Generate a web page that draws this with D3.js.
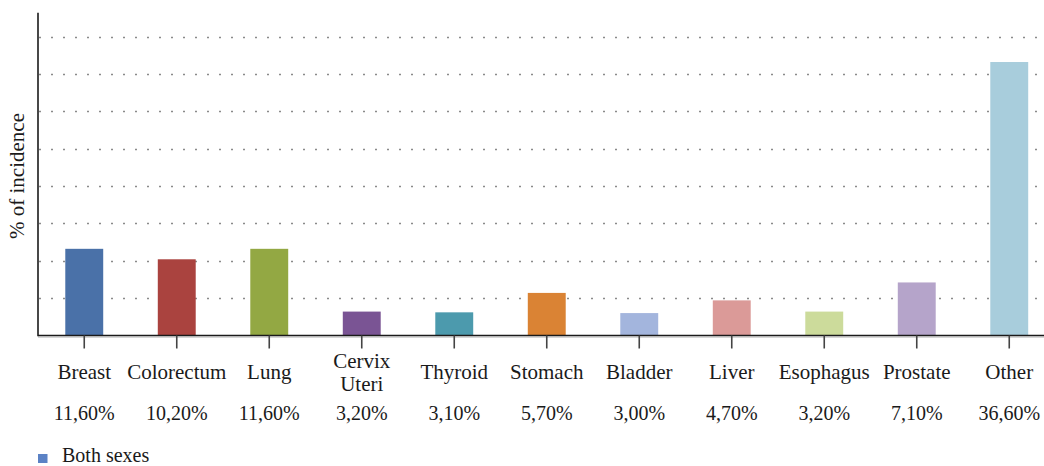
<!DOCTYPE html>
<html>
<head>
<meta charset="utf-8">
<script src="https://cdnjs.cloudflare.com/ajax/libs/d3/7.8.5/d3.min.js"></script>
<style>
	body { margin: 0; background: #fff; }
	svg text { font-family: "Liberation Serif", "DejaVu Serif", serif; fill: #1a1a1a; }
</style>
</head>
<body>
<div id="chart"></div>
<script>
// Data
var categories = ['Breast', 'Colorectum', 'Lung', 'Cervix\nUteri', 'Thyroid', 'Stomach', 'Bladder', 'Liver', 'Esophagus', 'Prostate', 'Other'];
var values = [11.6, 10.2, 11.6, 3.2, 3.1, 5.7, 3.0, 4.7, 3.2, 7.1, 36.6];
var colors = ['#4a71a8', '#aa433f', '#93a843', '#7a5494', '#4c9aad', '#da8334', '#a3b5dd', '#db9a98', '#ccdb9b', '#b5a4ca', '#a8cddc'];
var gridTicks = [5, 10, 15, 20, 25, 30, 35, 40];
var seriesName = 'Both sexes';

var width = 1044, height = 466;
var mLeft = 38, mTop = 12.7, base = 335.5;

var svg = d3.select('#chart').append('svg')
	.attr('width', width)
	.attr('height', height);

var x = d3.scaleBand()
	.domain(categories)
	.range([mLeft, mLeft + 92.5 * categories.length])
	.paddingInner(0.59)
	.paddingOuter(0.295);

var y = d3.scaleLinear()
	.domain([0, 43.2])
	.range([base, mTop]);

var pct = d3.formatLocale({decimal: ',', thousands: '.', grouping: [3], currency: ['', '']}).format('.2f');

// dotted gridlines
svg.append('g').selectAll('line')
	.data(gridTicks)
	.join('line')
	.attr('x1', mLeft + 1)
	.attr('x2', width)
	.attr('y1', function (d) { return Math.round(y(d)) + 0.5; })
	.attr('y2', function (d) { return Math.round(y(d)) + 0.5; })
	.attr('stroke', '#8a8a8a')
	.attr('stroke-width', 1.6)
	.attr('stroke-dasharray', '2,10');

// bars
svg.append('g').selectAll('rect')
	.data(values)
	.join('rect')
	.attr('x', function (d, i) { return x(categories[i]); })
	.attr('width', x.bandwidth())
	.attr('y', function (d) { return y(d); })
	.attr('height', function (d) { return base - y(d); })
	.attr('fill', function (d, i) { return colors[i]; });

// axes
svg.append('line')
	.attr('x1', mLeft).attr('x2', mLeft)
	.attr('y1', mTop).attr('y2', base + 0.8)
	.attr('stroke', '#1a1a1a').attr('stroke-width', 1.6);

svg.append('line')
	.attr('x1', mLeft).attr('x2', width)
	.attr('y1', base + 1.8).attr('y2', base + 1.8)
	.attr('stroke', '#d6d6d6').attr('stroke-width', 1.5);
svg.append('line')
	.attr('x1', mLeft).attr('x2', width)
	.attr('y1', base).attr('y2', base)
	.attr('stroke', '#1a1a1a').attr('stroke-width', 1.6);

// ticks at category centres
svg.append('g').selectAll('line')
	.data(categories)
	.join('line')
	.attr('x1', function (d) { return x(d) + x.bandwidth() / 2; })
	.attr('x2', function (d) { return x(d) + x.bandwidth() / 2; })
	.attr('y1', base)
	.attr('y2', base + 13)
	.attr('stroke', '#444')
	.attr('stroke-width', 1.6);

// category labels
var catLabels = svg.append('g').selectAll('text')
	.data(categories)
	.join('text')
	.attr('text-anchor', 'middle')
	.attr('font-size', 21);
catLabels.each(function (d) {
	var lines = d.split('\n');
	var cx = x(d) + x.bandwidth() / 2;
	var t = d3.select(this);
	lines.forEach(function (ln, k) {
		t.append('tspan')
			.attr('x', cx)
			.attr('y', lines.length > 1 ? 368 + k * 23 : 379)
			.text(ln);
	});
});

// value labels
svg.append('g').selectAll('text')
	.data(values)
	.join('text')
	.attr('text-anchor', 'middle')
	.attr('font-size', 20)
	.attr('x', function (d, i) { return x(categories[i]) + x.bandwidth() / 2; })
	.attr('y', 420)
	.text(function (d) { return pct(d) + '%'; });

// y axis title
svg.append('text')
	.attr('transform', 'translate(24,' + 176 + ') rotate(-90)')
	.attr('text-anchor', 'middle')
	.attr('font-size', 21)
	.text('% of incidence');

// legend
svg.append('rect')
	.attr('x', 38).attr('y', 454)
	.attr('width', 9.5).attr('height', 9)
	.attr('fill', '#5b82c5');
svg.append('text')
	.attr('x', 62).attr('y', 462)
	.attr('font-size', 20)
	.text(seriesName);
</script>
</body>
</html>
